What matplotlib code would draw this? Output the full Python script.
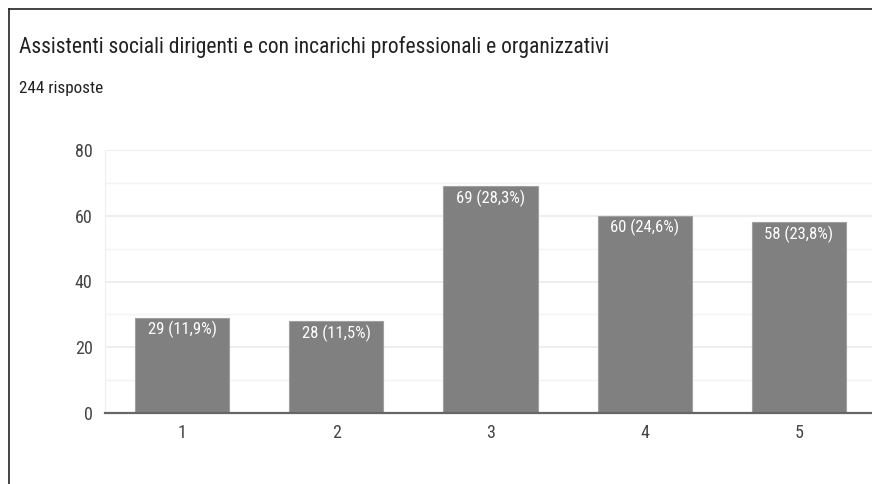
import matplotlib
matplotlib.use("Agg")
import matplotlib.pyplot as plt
from matplotlib.lines import Line2D
from matplotlib import font_manager

names = {f.name for f in font_manager.fontManager.ttflist}
fams = [n for n in ['Roboto Condensed', 'Liberation Sans Narrow', 'Roboto'] if n in names]
plt.rcParams['font.family'] = fams + ['DejaVu Sans']

categories = ['1', '2', '3', '4', '5']
counts = [29, 28, 69, 60, 58]
labels = ['29 (11,9%)', '28 (11,5%)', '69 (28,3%)', '60 (24,6%)', '58 (23,8%)']

fig = plt.figure(figsize=(8.72, 4.84), dpi=100)
W, H = 872, 484

# card border, left and top
fig.add_artist(Line2D([9/W, 9/W], [0, 1 - 9/H], color='#222222', lw=1.2))
fig.add_artist(Line2D([9/W, 1], [1 - 9/H, 1 - 9/H], color='#222222', lw=1.2))

fig.text(19/W, 1 - 47/H, 'Assistenti sociali dirigenti e con incarichi professionali e organizzativi',
         fontsize=15.5, color='#212121', va='center', ha='left')
fig.text(19/W, 1 - 88/H, '244 risposte', fontsize=12.3, color='#212121', va='center', ha='left')

ax = fig.add_axes([105/W, (H - 413)/H, 771/W, 263/H])
x = list(range(1, 6))
ax.bar(x, counts, width=0.61, color='#808080', edgecolor='#a0a0a0', linewidth=0.8, zorder=3)
for xi, c, lab in zip(x, counts, labels):
    ax.text(xi, c - 1.0, lab, ha='center', va='top', color='white', fontsize=12, zorder=4)

ax.set_xlim(0.5, 5.5)
ax.set_ylim(0, 80)
ax.set_yticks([0, 20, 40, 60, 80])
ax.set_yticks([10, 30, 50, 70], minor=True)
ax.set_xticks(x)
ax.set_xticklabels(categories)
ax.grid(axis='y', which='major', color='#ebebeb', lw=1.2, zorder=0)
ax.grid(axis='y', which='minor', color='#f3f3f3', lw=1.0, zorder=0)
for s in ['top', 'right']:
    ax.spines[s].set_visible(False)
ax.spines['left'].set_color('#eeeeee')
ax.spines['bottom'].set_color('#666666')
ax.spines['bottom'].set_linewidth(1.6)
ax.spines['bottom'].set_zorder(5)
ax.tick_params(axis='both', which='both', length=0, labelsize=13, colors='#444444')
ax.tick_params(axis='x', pad=8)
ax.tick_params(axis='y', pad=9)

fig.savefig('out.png', dpi=100)
